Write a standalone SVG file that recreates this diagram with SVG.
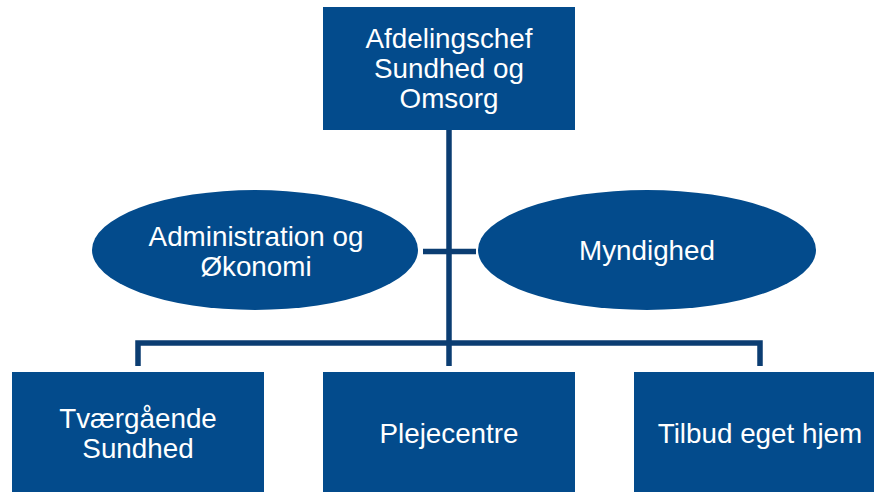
<svg xmlns="http://www.w3.org/2000/svg" width="874" height="492" viewBox="0 0 874 492">
<style>
.box{fill:#034B8C;}
.lbl{font-family:"Liberation Sans",Arial,sans-serif;font-size:27.8px;fill:#ffffff;text-anchor:middle;}
.conn{stroke:#0B3D72;stroke-width:5.5;fill:none;stroke-linejoin:miter;stroke-linecap:butt;}
</style>
<rect width="874" height="492" fill="#ffffff"/>
<g id="connectors">
<line class="conn" x1="449" y1="130" x2="449" y2="366"/>
<line class="conn" x1="423" y1="251.5" x2="476" y2="251.5"/>
<polyline class="conn" points="138,366 138,343 760,343 760,366"/>
</g>
<g id="top">
<rect class="box" x="323" y="7" width="252" height="123"/>
<text class="lbl" x="449" y="48">Afdelingschef</text>
<text class="lbl" x="449" y="78">Sundhed og</text>
<text class="lbl" x="449" y="108">Omsorg</text>
</g>
<g id="admin">
<ellipse class="box" cx="255" cy="250" rx="163" ry="60"/>
<text class="lbl" x="256" y="246">Administration og</text>
<text class="lbl" x="256" y="276">Økonomi</text>
</g>
<g id="myndighed">
<ellipse class="box" cx="647" cy="250" rx="169" ry="60"/>
<text class="lbl" x="647" y="260">Myndighed</text>
</g>
<g id="tvaergaaende">
<rect class="box" x="12" y="372" width="252" height="125"/>
<text class="lbl" x="138" y="428">Tværgående</text>
<text class="lbl" x="138" y="458">Sundhed</text>
</g>
<g id="plejecentre">
<rect class="box" x="323" y="372" width="252" height="125"/>
<text class="lbl" x="449" y="443">Plejecentre</text>
</g>
<g id="tilbud">
<rect class="box" x="634" y="372" width="252" height="125"/>
<text class="lbl" x="760" y="443">Tilbud eget hjem</text>
</g>
</svg>
